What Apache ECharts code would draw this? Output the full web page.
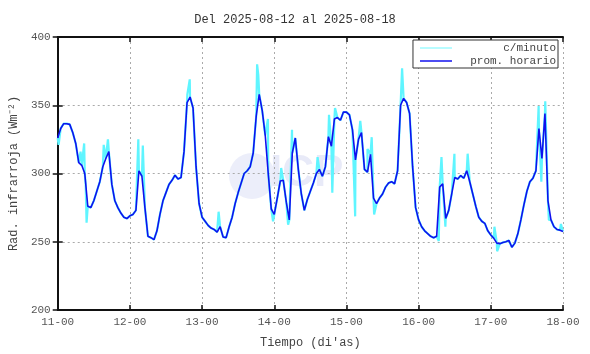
<!DOCTYPE html>
<html><head><meta charset="utf-8">
<script src="https://cdn.jsdelivr.net/npm/echarts@6/dist/echarts.min.js"></script>
<style>html,body{margin:0;padding:0;background:#fff}#c{width:590px;height:354px}</style>
</head><body><div id="c"></div>
<script>
var titleText = 'Del 2025-08-12 al 2025-08-18';
var tickLabels = ['11-00','12-00','13-00','14-00','15-00','16-00','17-00','18-00'];
// hourly mean (prom. horario), one value per hour from 11-00
var hourlyValues = [
326,333,336.5,336.5,336,330,322,308,306,300,276,275,280,287,294,305,311,316,292,280,275,271,268,267,
269,270,273,302,298,275,254,253,251.5,258,270,280,286,292,295,298.8,296,297,316,352,356,348,305,278,
268,265,262,260,259,257,261,253.5,253,261,268,278,286,293,300,302,305,315,342,358,346,328,300,274,
270,282,294.5,295,279,266,315,326,303,285,273,281,287,293,300,303,298,305,327,320,340,341,339,345,
345,343,332,310,325,330,303,301,314,282,278,282,285,290,293,294,292.5,302,350,355,352,344,305,275,
266,261,258,256,254,253,254,290,292.5,267,273,285,297,296,298.5,296.5,302,294,285,276,268,265,263.5,258,
255,252.5,249,248.6,249.5,250,251,246,249,256,266,277,287,294,296.5,302,333,311,344,280,266,261,259,258.5,
257.5];
// per-minute extremes (hours since 11-00, value)
var spikeHours = [0.3,7.6,8.8,9.3,9.6,15.3,16.7,26.8,28.3,43.1,43.9,53.5,66.3,66.7,69.9,71.6,74.3,76.6,77.9,86.4,
90.2,91.3,92.2,98.9,100.6,103,104.4,105.2,114.5,126.7,127.6,128.9,131.9,136.3,145.2,146.1,159.9,160.8,162.1,163.3,167.3];
var spikeValues = [321,316,322,292,264,321,325,325,320.5,358,369,272,380,372,340,265,304,262.5,332,312,
343,286,348,268.6,338.6,318,326.6,270,377,250.5,312,261,314.5,314.5,261,243,349.5,294,353,266,263];

var hourlyData = hourlyValues.map(function(v,i){return [i,v];});
var minuteData = hourlyData.concat(spikeHours.map(function(h,i){return [h,spikeValues[i]];}))
  .sort(function(a,b){return a[0]-b[0];});

var FONT = 'Liberation Mono';
var chart = echarts.init(document.getElementById('c'), null, {renderer:'canvas'});
chart.setOption({
  animation:false,
  backgroundColor:'#fff',
  title:{text:titleText,left:'center',top:9,textStyle:{fontFamily:FONT,fontSize:12,fontWeight:'normal',color:'#333'}},
  grid:{left:49,right:27,top:37,bottom:41},
  legend:{
    right:32,top:40,orient:'vertical',itemGap:1,itemWidth:32,itemHeight:1.5,icon:'rect',
    borderColor:'#333',borderWidth:1,padding:[2,2,1,7],backgroundColor:'#fff',
    textStyle:{fontFamily:FONT,fontSize:11,color:'#444',lineHeight:12},
    formatter:function(n){var s=n;while(s.length<15)s=' '+s;return s;},
    data:['c/minuto','prom. horario']
  },
  graphic:[
    {type:'circle',shape:{cx:252,cy:176,r:23},style:{fill:'#eceefa'},z:0,silent:true},
    {type:'text',x:270,y:152,style:{text:'ICP',font:'bold 44px sans-serif',fill:'#e8eaf8'},z:0,silent:true}
  ],
  xAxis:[{
    type:'value',min:0,max:168,interval:24,
    name:"Tiempo (di'as)",nameLocation:'middle',nameGap:27,
    nameTextStyle:{fontFamily:FONT,fontSize:12,color:'#444'},
    axisLine:{lineStyle:{color:'#111',width:2}},
    axisTick:{inside:true,length:5,lineStyle:{color:'#111',width:1.5}},
    axisLabel:{fontFamily:FONT,fontSize:11,color:'#555',margin:7,formatter:function(v){return tickLabels[Math.round(v/24)];}},
    splitLine:{show:true,lineStyle:{color:'#aaa',type:[2,3],width:1}}
  },{
    type:'value',min:0,max:168,interval:24,position:'top',
    axisLine:{show:true,lineStyle:{color:'#111',width:2}},
    axisTick:{inside:true,length:5,lineStyle:{color:'#111',width:1.5}},
    axisLabel:{show:false},splitLine:{show:false}
  }],
  yAxis:[{
    type:'value',min:200,max:400,interval:50,
    name:'Rad. infrarroja (Wm\u207B\u00B2)',nameLocation:'middle',nameGap:30,
    nameTextStyle:{fontFamily:FONT,fontSize:12,color:'#444'},
    axisLine:{show:true,lineStyle:{color:'#111',width:2}},
    axisTick:{show:true,inside:true,length:5,lineStyle:{color:'#111',width:1.5}},
    axisLabel:{fontFamily:FONT,fontSize:11,color:'#555',margin:7},
    splitLine:{show:true,lineStyle:{color:'#aaa',type:[2,3],width:1}}
  },{
    type:'value',min:200,max:400,interval:50,position:'right',
    axisLine:{show:true,lineStyle:{color:'#111',width:2}},
    axisTick:{show:true,inside:true,length:5,lineStyle:{color:'#111',width:1.5}},
    axisLabel:{show:false},splitLine:{show:false}
  }],
  series:[
    {name:'c/minuto',type:'line',data:minuteData,showSymbol:false,symbol:'none',
     lineStyle:{color:'#5ff5ff',width:2.2},itemStyle:{color:'#9ffbff'},z:2},
    {name:'prom. horario',type:'line',data:hourlyData,showSymbol:false,symbol:'none',
     lineStyle:{color:'#1010ee',width:1.6},itemStyle:{color:'#1010ee'},z:3}
  ]
});
</script></body></html>
